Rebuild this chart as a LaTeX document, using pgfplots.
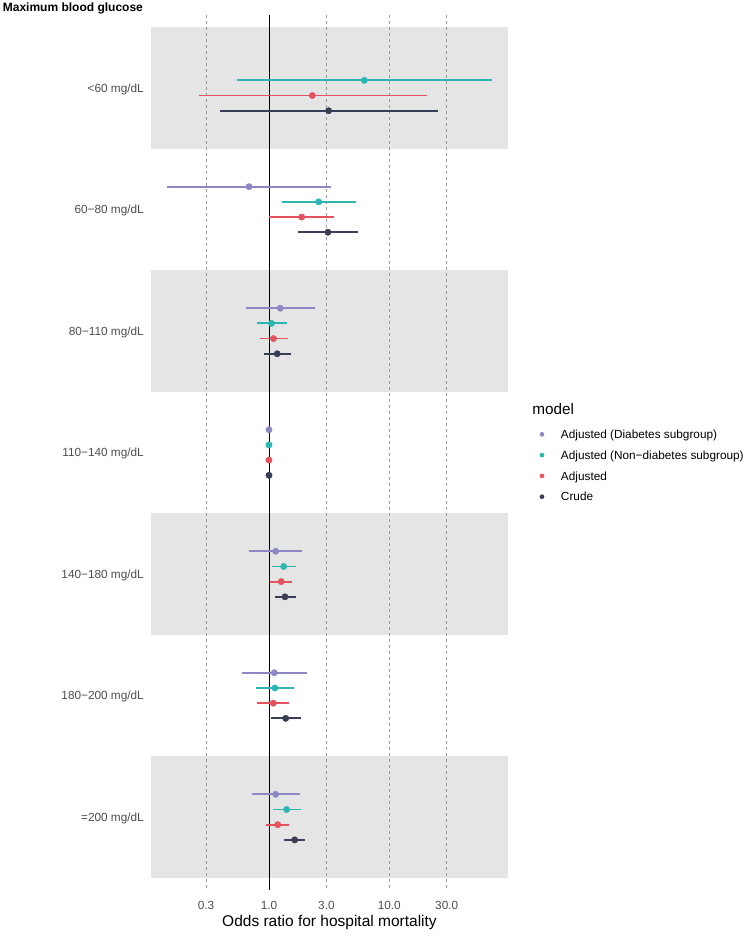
\documentclass[border=0pt]{standalone}
\usepackage{pgfplots}
\pgfplotsset{compat=1.18}
\usepackage{fontspec}
\setmainfont{Liberation Sans}
\definecolor{cpur}{HTML}{8C88C4}
\definecolor{ctea}{HTML}{2BB6B1}
\definecolor{cred}{HTML}{E4535D}
\definecolor{cdrk}{HTML}{393E56}
\definecolor{band}{HTML}{E5E5E5}
\definecolor{gridc}{HTML}{9A9A9A}
\definecolor{tickc}{HTML}{4D4D4D}
\begin{document}
\begin{tikzpicture}
\useasboundingbox (-151pt,-50pt) rectangle (599pt,890pt);
\begin{axis}[
  scale only axis, width=357pt, height=875pt,
  xmode=log, xmin=0.1045, xmax=96.99,
  ymin=-0.6, ymax=6.6, y dir=reverse,
  axis line style={draw=none}, major tick length=0pt, minor tick num=0,
  xtick={0.3,1,3,10,30}, xticklabels={0.3,1.0,3.0,10.0,30.0},
  ytick={0,1,2,3,4,5,6},
  yticklabels={<60 mg/dL,60−80 mg/dL,80−110 mg/dL,110−140 mg/dL,140−180 mg/dL,180−200 mg/dL,=200 mg/dL},
  tick label style={font=\fontsize{11.8}{13}\selectfont, text=tickc, inner sep=0pt},
  xticklabel style={anchor=base, yshift=-19.5pt},
  yticklabel style={anchor=base east, xshift=-7pt, yshift=-4.3pt},
  clip=false,
  unbounded coords=jump,
  legend cell align=left,
  legend style={at={(rel axis cs:1.0672,0.5256)}, anchor=north west, draw=none, fill=none,
    inner sep=0pt, outer sep=0pt, row sep=12.35pt, column sep=0pt,
    font=\fontsize{11.8}{14}\selectfont,
    nodes={inner sep=0pt, text height=8.45pt, text depth=0pt}},
  legend image code/.code={\path[draw=none, fill=none] (0pt,-4pt) rectangle (29pt,4pt); \draw[mark size=2.1pt] plot coordinates {(10pt,0pt)};},
]
% shaded bands
\addplot[forget plot, fill=band, draw=none] coordinates {(0.1045,-0.5)(96.99,-0.5)(96.99,0.5)(0.1045,0.5)} -- cycle;
\addplot[forget plot, fill=band, draw=none] coordinates {(0.1045,1.5)(96.99,1.5)(96.99,2.5)(0.1045,2.5)} -- cycle;
\addplot[forget plot, fill=band, draw=none] coordinates {(0.1045,3.5)(96.99,3.5)(96.99,4.5)(0.1045,4.5)} -- cycle;
\addplot[forget plot, fill=band, draw=none] coordinates {(0.1045,5.5)(96.99,5.5)(96.99,6.5)(0.1045,6.5)} -- cycle;
% grid lines
\addplot[forget plot, gridc, line width=0.6pt, dash pattern=on 3pt off 3pt] coordinates {(0.3,-0.6)(0.3,6.6)};
\addplot[forget plot, gridc, line width=0.6pt, dash pattern=on 3pt off 3pt] coordinates {(3,-0.6)(3,6.6)};
\addplot[forget plot, gridc, line width=0.6pt, dash pattern=on 3pt off 3pt] coordinates {(10,-0.6)(10,6.6)};
\addplot[forget plot, gridc, line width=0.6pt, dash pattern=on 3pt off 3pt] coordinates {(30,-0.6)(30,6.6)};
% reference line
\addplot[forget plot, black, line width=0.9pt] coordinates {(1,-0.6)(1,6.6)};
% intervals
\addplot[forget plot, cpur, line width=1.8pt] coordinates {
 (0.143,0.8125)(3.28,0.8125)(nan,nan)
 (0.64,1.8125)(2.43,1.8125)(nan,nan)
 (0.686,3.8125)(1.88,3.8125)(nan,nan)
 (0.597,4.8125)(2.06,4.8125)(nan,nan)
 (0.722,5.8125)(1.80,5.8125)};
\addplot[forget plot, ctea, line width=1.8pt] coordinates {
 (0.542,-0.0625)(71,-0.0625)(nan,nan)
 (1.275,0.9375)(5.26,0.9375)(nan,nan)
 (0.795,1.9375)(1.41,1.9375)(nan,nan)
 (1.059,3.9375)(1.667,3.9375)(nan,nan)
 (0.78,4.9375)(1.605,4.9375)(nan,nan)
 (1.086,5.9375)(1.834,5.9375)};
\addplot[forget plot, cred, line width=1.8pt] coordinates {
 (0.26,0.0625)(20.5,0.0625)(nan,nan)
 (1.0,1.0625)(3.49,1.0625)(nan,nan)
 (0.84,2.0625)(1.43,2.0625)(nan,nan)
 (1.02,4.0625)(1.553,4.0625)(nan,nan)
 (0.80,5.0625)(1.466,5.0625)(nan,nan)
 (0.95,6.0625)(1.458,6.0625)};
\addplot[forget plot, cdrk, line width=1.8pt] coordinates {
 (0.389,0.1875)(25.3,0.1875)(nan,nan)
 (1.75,1.1875)(5.52,1.1875)(nan,nan)
 (0.914,2.1875)(1.51,2.1875)(nan,nan)
 (1.12,4.1875)(1.667,4.1875)(nan,nan)
 (1.033,5.1875)(1.834,5.1875)(nan,nan)
 (1.332,6.1875)(2.0,6.1875)};
% points
\addplot[only marks, mark=*, mark size=3.2pt, cpur] coordinates {
 (0.682,0.8125)(1.24,1.8125)(1.0,2.8125)(1.136,3.8125)(1.107,4.8125)(1.136,5.8125)};
\addlegendentry{Adjusted (Diabetes subgroup)}
\addplot[only marks, mark=*, mark size=3.2pt, ctea] coordinates {
 (6.2,-0.0625)(2.59,0.9375)(1.05,1.9375)(1.0,2.9375)(1.325,3.9375)(1.12,4.9375)(1.403,5.9375)};
\addlegendentry{Adjusted (Non−diabetes subgroup)}
\addplot[only marks, mark=*, mark size=3.2pt, cred] coordinates {
 (2.29,0.0625)(1.87,1.0625)(1.09,2.0625)(1.0,3.0625)(1.265,4.0625)(1.086,5.0625)(1.181,6.0625)};
\addlegendentry{Adjusted}
\addplot[only marks, mark=*, mark size=3.2pt, cdrk] coordinates {
 (3.13,0.1875)(3.09,1.1875)(1.17,2.1875)(1.0,3.1875)(1.358,4.1875)(1.376,5.1875)(1.635,6.1875)};
\addlegendentry{Crude}
% texts
\node[anchor=base west, inner sep=0pt, font=\fontsize{15.3}{18}\selectfont] at (rel axis cs:1.068,0.5431) {model};
\node[anchor=base west, inner sep=0pt, font=\bfseries\fontsize{12}{14}\selectfont] at (rel axis cs:-0.4154,1.00457) {Maximum blood glucose};
\node[anchor=base, inner sep=0pt, font=\fontsize{15.5}{18}\selectfont] at (rel axis cs:0.5,-0.04114) {Odds ratio for hospital mortality};
\end{axis}
\end{tikzpicture}
\end{document}
